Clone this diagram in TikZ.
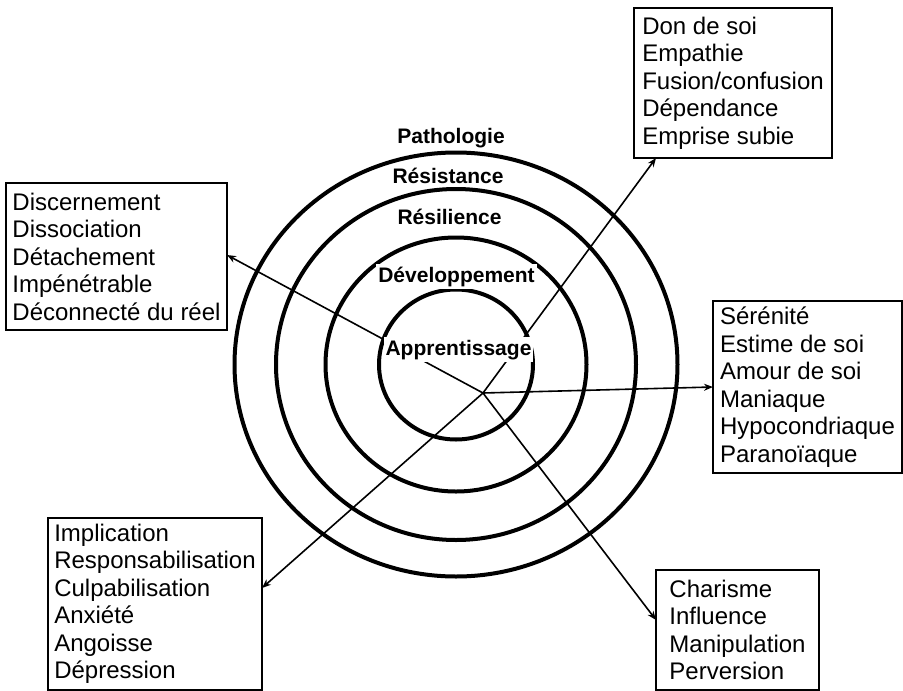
\documentclass[tikz,border=0pt]{standalone}
\usepackage{fontspec}
\setmainfont{Liberation Sans}
\usetikzlibrary{arrows.meta}

\tikzset{
  ring/.style={line width=4pt},
  ringlabel/.style={font=\fontsize{21}{24}\selectfont\bfseries, anchor=base, inner xsep=2pt, inner ysep=3pt},
  listbox/.style={draw, line width=1.8pt, align=left, anchor=north west, outer sep=0pt,
    font=\fontsize{24}{27.5}\selectfont},
  link/.style={line width=1.6pt, -{Stealth[length=9pt,width=7pt]}},
}

\begin{document}
\begin{tikzpicture}[x=1pt, y=-1pt]
  \useasboundingbox (0,0) rectangle (903,691);
  % the four rings
  \foreach \rx/\ry in {77/75, 130.5/127, 180/175.5, 221.5/212}
    \draw[ring] (456,364.5) ellipse [x radius=\rx pt, y radius=\ry pt];
  \node[ringlabel] (patho) at (451,143) {Pathologie};
  \node[ringlabel] (resist) at (448,183) {Résistance};
  \node[ringlabel] (resil) at (449.5,224) {Résilience};

  % lists round the rings
  \node[listbox, minimum width=198pt, minimum height=150pt] (emprise) at (634,8)
    {Don de soi\\Empathie\\Fusion/confusion\\Dépendance\\Emprise subie};
  \node[listbox, minimum width=221pt, minimum height=147pt] (detach) at (6,183)
    {Discernement\\Dissociation\\Détachement\\Impénétrable\\Déconnecté du réel};
  \node[listbox, minimum width=189pt, minimum height=172pt] (serene) at (713,301)
    {Sérénité\\Estime de soi\\Amour de soi\\Maniaque\\Hypocondriaque\\Paranoïaque};
  \node[listbox, minimum width=214pt, minimum height=172pt] (implic) at (48,518)
    {Implication\\Responsabilisation\\Culpabilisation\\Anxiété\\Angoisse\\Dépression};
  \node[listbox, minimum width=163pt, minimum height=120pt] (charisme) at (656,570)
    {Charisme\\Influence\\Manipulation\\Perversion};

  % arrows out of the centre
  \coordinate (hub) at (483,393);
  \draw[link] (hub) -- ([xshift=22pt]emprise.south west);
  \draw[link] (hub) -- ([yshift=-72pt]detach.north east);
  \draw[link] (hub) -- ([yshift=-86pt]serene.north west);
  \draw[link] (hub) -- ([yshift=-70pt]implic.north east);
  \draw[link] (hub) -- ([yshift=-50pt]charisme.north west);

  \node[ringlabel, fill=white] (devel) at (456.5,282) {Développement};
  \node[ringlabel, fill=white] (appr) at (458.5,355) {Apprentissage};
\end{tikzpicture}
\end{document}
